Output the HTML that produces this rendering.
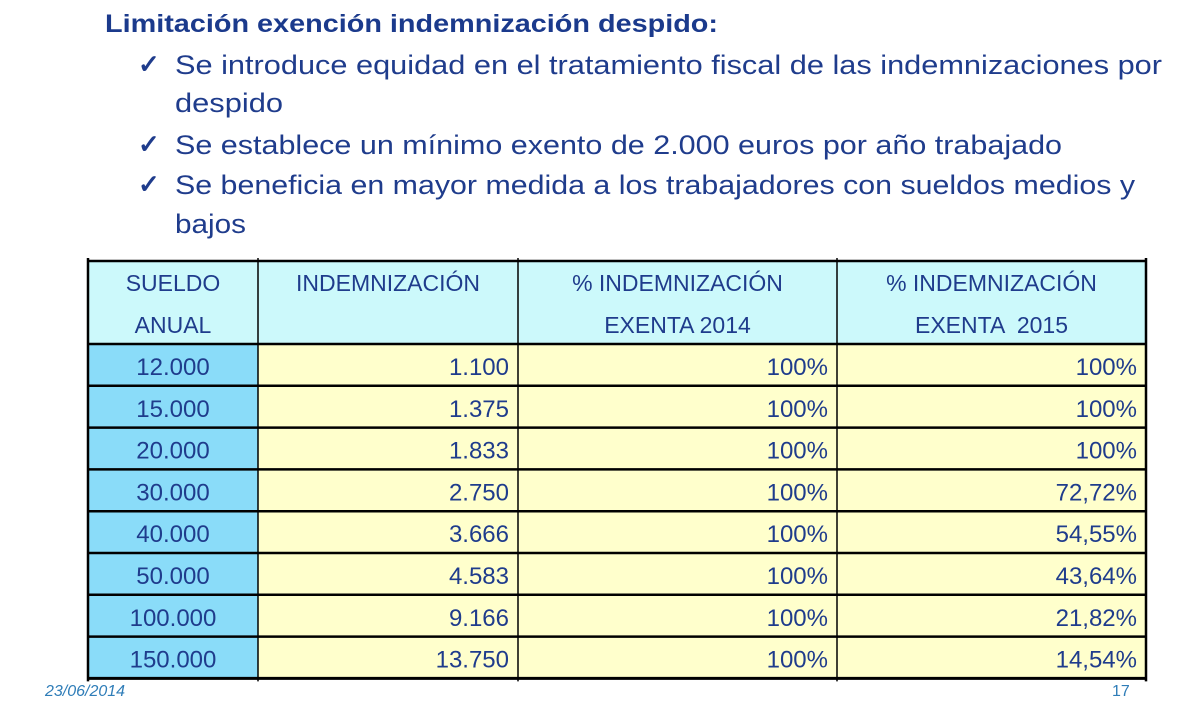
<!DOCTYPE html>
<html><head><meta charset="utf-8">
<style>
html,body{margin:0;padding:0;background:#fff;}
svg{display:block;font-family:"Liberation Sans",sans-serif;}
</style></head>
<body>
<svg id="s" width="1186" height="710" viewBox="0 0 1186 710">
<text x="105" y="32" font-size="25" font-weight="bold" fill="#1b3a8c" textLength="613" lengthAdjust="spacingAndGlyphs">Limitación exención indemnización despido:</text>
<g fill="#1f3c8c" font-size="27">
<text x="138" y="73" font-size="26" font-weight="bold">✓</text>
<text x="175" y="74" textLength="987" lengthAdjust="spacingAndGlyphs">Se introduce equidad en el tratamiento fiscal de las indemnizaciones por</text>
<text x="175" y="112" textLength="108" lengthAdjust="spacingAndGlyphs">despido</text>
<text x="138" y="153" font-size="26" font-weight="bold">✓</text>
<text x="175" y="154" textLength="887" lengthAdjust="spacingAndGlyphs">Se establece un mínimo exento de 2.000 euros por año trabajado</text>
<text x="138" y="193" font-size="26" font-weight="bold">✓</text>
<text x="175" y="194" textLength="960" lengthAdjust="spacingAndGlyphs">Se beneficia en mayor medida a los trabajadores con sueldos medios y</text>
<text x="175" y="233" textLength="71" lengthAdjust="spacingAndGlyphs">bajos</text>
</g>
<g id="tbl"></g>
<text x="45" y="696" font-size="16" font-style="italic" fill="#2f7db8">23/06/2014</text>
<text x="1112" y="696" font-size="16" fill="#2f7db8">17</text>
</svg>
<script>
const sueldos = ["12.000","15.000","20.000","30.000","40.000","50.000","100.000","150.000"];
const indemnizaciones = ["1.100","1.375","1.833","2.750","3.666","4.583","9.166","13.750"];
const exenta2014 = ["100%","100%","100%","100%","100%","100%","100%","100%"];
const exenta2015 = ["100%","100%","100%","72,72%","54,55%","43,64%","21,82%","14,54%"];
const headers1 = ["SUELDO","INDEMNIZACIÓN","% INDEMNIZACIÓN","% INDEMNIZACIÓN"];
const headers2 = ["ANUAL","","EXENTA 2014","EXENTA  2015"];

const NS="http://www.w3.org/2000/svg";
const tblG=document.getElementById('tbl');
const colX=[88,258,518,837,1146];
const tblTop=261, headH=83, rowH=41.8;
function mk(tag,attrs){const e=document.createElementNS(NS,tag);for(const k in attrs)e.setAttribute(k,attrs[k]);tblG.appendChild(e);return e;}
for(let c=0;c<4;c++){
  const r=mk('rect',{x:colX[c],y:tblTop,width:colX[c+1]-colX[c],height:headH,fill:'#ccf9fb'});
  
  
  const cx=(colX[c]+colX[c+1])/2;
  const t1=mk('text',{x:cx,y:tblTop+30,'text-anchor':'middle','font-size':23,fill:'#1f3c8c'});
  t1.textContent=headers1[c];
  
  
  if(headers2[c]){
    const t2=mk('text',{x:cx,y:tblTop+72,'text-anchor':'middle','font-size':23,fill:'#1f3c8c'});
    t2.style.whiteSpace='pre';
    t2.textContent=headers2[c];
    
    
  }
}
const cols=[sueldos,indemnizaciones,exenta2014,exenta2015];
for(let i=0;i<sueldos.length;i++){
  const y=tblTop+headH+i*rowH;
  for(let c=0;c<4;c++){
    const r=mk('rect',{x:colX[c],y:y,width:colX[c+1]-colX[c],height:rowH,fill:c===0?'#8adcf9':'#ffffcc'});
    
    
    const t=mk('text',{x:c===0?(colX[0]+colX[1])/2:colX[c+1]-9,y:y+31,'text-anchor':c===0?'middle':'end','font-size':24,fill:'#1f3c8c'});
    t.textContent=cols[c][i];
    
    
  }
}
const bottom=tblTop+headH+sueldos.length*rowH;
for(let i=0;i<=sueldos.length+1;i++){
  const y=i===0?tblTop:tblTop+headH+(i-1)*rowH;
  const l=mk('line',{x1:colX[0],x2:colX[4],y1:y,y2:y,stroke:'#000','stroke-width':i===sueldos.length+1?3:2.5});
  
  
}
for(let c=0;c<5;c++){
  const l=mk('line',{x1:colX[c],x2:colX[c],y1:tblTop-3,y2:bottom+3,stroke:'#000','stroke-width':c===0||c===4?2.5:1.5});
  
  
}
</script>
</body></html>
